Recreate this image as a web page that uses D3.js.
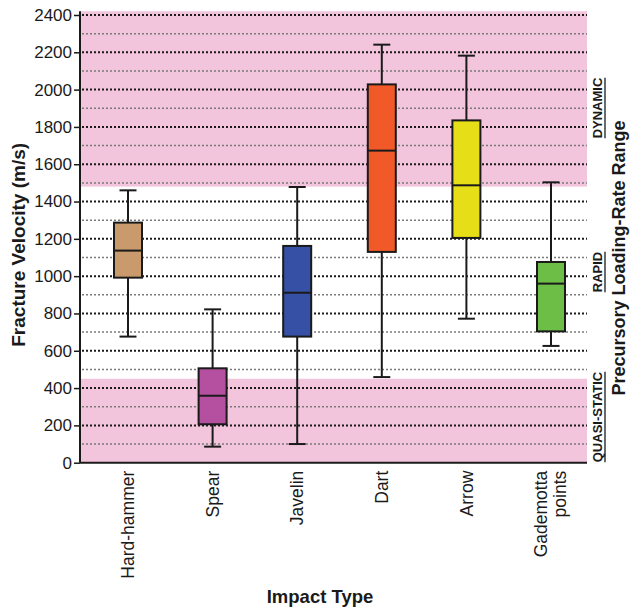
<!DOCTYPE html>
<html>
<head>
<meta charset="utf-8">
<script src="https://cdn.jsdelivr.net/npm/d3@7"></script>
<style>
  html, body { margin: 0; padding: 0; background: #fff; }
  svg { display: block; font-family: Arial, "Liberation Sans", sans-serif; }
</style>
</head>
<body>
<svg id="chart" width="630" height="609"></svg>
<script>
// ---- data ----
const categories = ["Hard-hammer", "Spear", "Javelin", "Dart", "Arrow", "Gademotta points"];
const whiskerMin = [676, 86, 100, 459, 772, 626];
const q1 = [992, 206, 676, 1130, 1205, 704];
const medians = [1137, 359, 911, 1673, 1487, 960];
const q3 = [1287, 506, 1162, 2028, 1835, 1076];
const whiskerMax = [1460, 822, 1478, 2241, 2182, 1503];
const boxColors = ["#c99b6c", "#b4509f", "#3550a4", "#f15a28", "#e6df18", "#6cbe47"];
const yTicks = [0, 200, 400, 600, 800, 1000, 1200, 1400, 1600, 1800, 2000, 2200, 2400];
const minorTicks = [100, 300, 500, 700, 900, 1100, 1300, 1500, 1700, 1900, 2100, 2300];
const bands = [
  { label: "QUASI-STATIC", from: 0, to: 450 },
  { label: "RAPID", from: 450, to: 1480 },
  { label: "DYNAMIC", from: 1480, to: 2420 }
];
const shadedBands = ["QUASI-STATIC", "DYNAMIC"];

// ---- layout ----
const svg = d3.select("#chart");
const mLeft = 80, mRight = 587, mTop = 15, mBottom = 462.7;

const y = d3.scaleLinear().domain([0, 2400]).range([mBottom, mTop]);
const x = d3.scalePoint().domain(categories).range([128, 551]);
const boxW = 28, capW = 17;

// shaded bands
svg.append("g").selectAll("rect")
  .data(bands.filter(b => shadedBands.includes(b.label)))
  .join("rect")
  .attr("x", mLeft)
  .attr("width", mRight - mLeft)
  .attr("y", d => y(d.to))
  .attr("height", d => y(d.from) - y(d.to))
  .attr("fill", "#f3c5dc");

// gridlines
svg.append("g").selectAll("line")
  .data(minorTicks)
  .join("line")
  .attr("x1", mLeft + 2).attr("x2", mRight)
  .attr("y1", d => y(d)).attr("y2", d => y(d))
  .attr("stroke", "#7a7a7a")
  .attr("stroke-width", 1.5)
  .attr("stroke-dasharray", "2,2");
svg.append("g").selectAll("line")
  .data(yTicks.filter(t => t > 0))
  .join("line")
  .attr("x1", mLeft + 2).attr("x2", mRight)
  .attr("y1", d => y(d)).attr("y2", d => y(d))
  .attr("stroke", "#1a1a1a")
  .attr("stroke-width", 2)
  .attr("stroke-dasharray", "2,2");

// boxes
const data = categories.map((c, i) => ({
  cat: c, lo: whiskerMin[i], q1: q1[i], med: medians[i], q3: q3[i], hi: whiskerMax[i], color: boxColors[i]
}));
const g = svg.append("g").selectAll("g").data(data).join("g");
g.append("line")
  .attr("x1", d => x(d.cat)).attr("x2", d => x(d.cat))
  .attr("y1", d => y(d.hi)).attr("y2", d => y(d.lo))
  .attr("stroke", "#1a1a1a").attr("stroke-width", 2);
g.append("line")
  .attr("x1", d => x(d.cat) - capW / 2).attr("x2", d => x(d.cat) + capW / 2)
  .attr("y1", d => y(d.hi)).attr("y2", d => y(d.hi))
  .attr("stroke", "#1a1a1a").attr("stroke-width", 2);
g.append("line")
  .attr("x1", d => x(d.cat) - capW / 2).attr("x2", d => x(d.cat) + capW / 2)
  .attr("y1", d => y(d.lo)).attr("y2", d => y(d.lo))
  .attr("stroke", "#1a1a1a").attr("stroke-width", 2);
g.append("rect")
  .attr("x", d => x(d.cat) - boxW / 2).attr("width", boxW)
  .attr("y", d => y(d.q3)).attr("height", d => y(d.q1) - y(d.q3))
  .attr("fill", d => d.color)
  .attr("stroke", "#1a1a1a").attr("stroke-width", 2);
g.append("line")
  .attr("x1", d => x(d.cat) - boxW / 2).attr("x2", d => x(d.cat) + boxW / 2)
  .attr("y1", d => y(d.med)).attr("y2", d => y(d.med))
  .attr("stroke", "#1a1a1a").attr("stroke-width", 2);

// y axis
const yAxis = svg.append("g")
  .attr("transform", `translate(${mLeft},0)`)
  .call(d3.axisLeft(y).tickValues(yTicks).tickSize(6).tickPadding(2).tickFormat(d3.format("d")));
yAxis.select(".domain").attr("stroke", "#1a1a1a").attr("stroke-width", 2)
  .attr("d", `M0,${y(2420)}V${mBottom}`);
yAxis.selectAll(".tick line").attr("stroke", "#1a1a1a").attr("stroke-width", 1.5);
yAxis.selectAll(".tick text").attr("font-size", 17).attr("fill", "#1a1a1a")
  .attr("font-family", "Arial, 'Liberation Sans', sans-serif");

// x axis
const xAxis = svg.append("g")
  .attr("transform", `translate(0,${mBottom})`)
  .call(d3.axisBottom(x).tickSize(0).tickFormat(""));
xAxis.select(".domain").attr("stroke", "#1a1a1a").attr("stroke-width", 2)
  .attr("d", `M${mLeft},0H${mRight}`);

// x tick labels (rotated)
const xl = svg.append("g").selectAll("text").data(categories).join("text")
  .attr("transform", d => `translate(${x(d)},${mBottom + 8}) rotate(-90)`)
  .attr("text-anchor", "end")
  .attr("font-size", 17.5)
  .attr("fill", "#1a1a1a");
xl.each(function(d) {
  const parts = d === "Gademotta points" ? ["Gademotta", "points"] : [d];
  const t = d3.select(this);
  parts.forEach((p, i) => {
    const dy = parts.length === 1 ? 0.35 : (i === 0 ? -0.25 : 0.95);
    t.append("tspan").attr("x", 0).attr("dy", (i === 0 ? dy : 1.1) + "em").text(p);
  });
});

// axis titles
svg.append("text")
  .attr("transform", `translate(25,${(mTop + mBottom) / 2 + 6}) rotate(-90)`)
  .attr("text-anchor", "middle")
  .attr("font-size", 19).attr("font-weight", "bold").attr("fill", "#1a1a1a")
  .text("Fracture Velocity (m/s)");
svg.append("text")
  .attr("x", 320).attr("y", 603)
  .attr("text-anchor", "middle")
  .attr("font-size", 18.5).attr("font-weight", "bold").attr("fill", "#1a1a1a")
  .text("Impact Type");
svg.append("text")
  .attr("transform", `translate(625,${258}) rotate(-90)`)
  .attr("text-anchor", "middle")
  .attr("font-size", 18).attr("font-weight", "bold").attr("fill", "#1a1a1a")
  .text("Precursory Loading-Rate Range");

// band labels with underline
const bandLabelY = { "QUASI-STATIC": 417, "RAPID": 272, "DYNAMIC": 108 };
bands.forEach(b => {
  const cy = bandLabelY[b.label];
  const t = svg.append("text")
    .attr("transform", `translate(602,${cy}) rotate(-90)`)
    .attr("text-anchor", "middle")
    .attr("font-size", 13).attr("font-weight", "bold").attr("fill", "#1a1a1a")
    .text(b.label);
  const w = t.node().getComputedTextLength();
  svg.append("line")
    .attr("x1", 605).attr("x2", 605)
    .attr("y1", cy - w / 2).attr("y2", cy + w / 2)
    .attr("stroke", "#1a1a1a").attr("stroke-width", 1.3);
});
</script>
</body>
</html>
